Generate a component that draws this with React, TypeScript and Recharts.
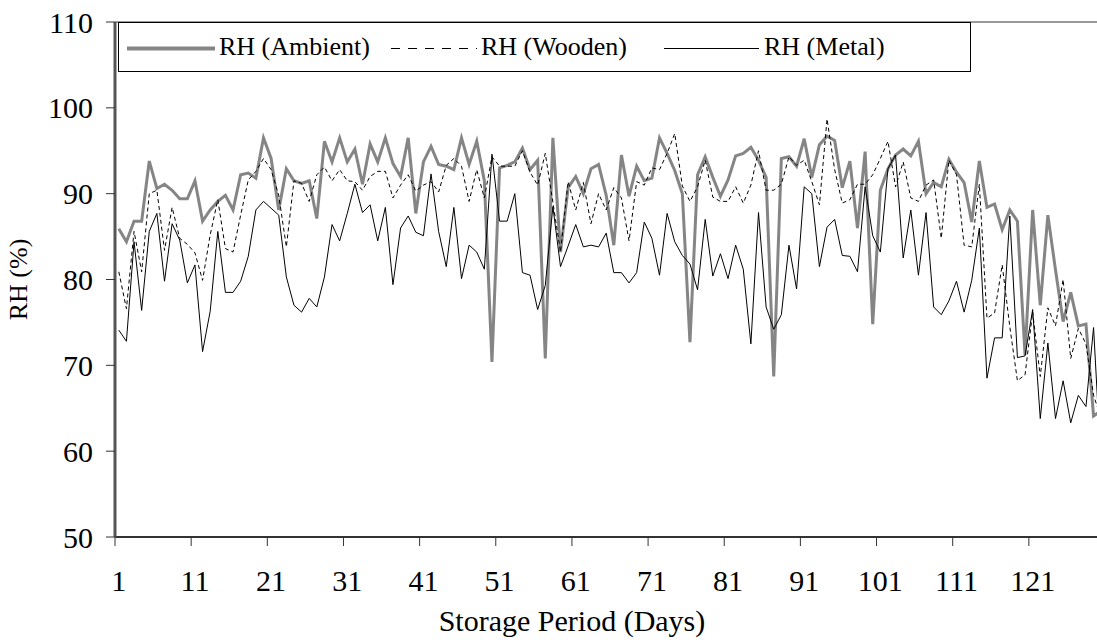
import { LineChart, Line, XAxis, YAxis, Legend, ReferenceLine, Label } from "recharts"

// storage days 1..130
const days = Array.from({ length: 130 }, (_, i) => i + 1)

const rhAmbient = [
  85.9, 84.4, 86.8, 86.8, 93.8, 90.6, 91.1, 90.4, 89.4, 89.4,
  91.5, 86.8, 88.1, 89.1, 89.8, 88.1, 92.2, 92.4, 91.8, 96.5,
  94.1, 88.1, 92.9, 91.5, 91.2, 91.5, 87.1, 96.1, 93.7, 96.5,
  93.7, 95.2, 91.1, 95.8, 93.7, 96.5, 93.5, 92.0, 96.5, 87.7,
  93.7, 95.5, 93.4, 93.2, 92.8, 96.5, 93.4, 96.1, 91.5, 70.4,
  93.0, 93.3, 93.7, 95.3, 92.8, 93.9, 70.8, 96.5, 83.2, 90.7,
  92.0, 90.0, 92.9, 93.4, 89.8, 84.0, 94.5, 89.7, 93.2, 91.5,
  91.8, 96.5, 94.7, 92.7, 90.0, 72.7, 92.2, 94.3, 91.9, 89.7,
  91.6, 94.4, 94.7, 95.4, 93.9, 91.9, 68.7, 94.1, 94.3, 93.2,
  96.4, 91.9, 95.7, 96.7, 96.2, 90.7, 93.8, 86.0, 94.9, 74.8,
  90.4, 92.9, 94.5, 95.2, 94.4, 96.1, 90.0, 91.3, 90.8, 94.0,
  92.5, 91.3, 86.7, 93.8, 88.4, 88.8, 85.8, 88.1, 86.8, 71.2,
  88.1, 77.0, 87.5, 81.1, 75.1, 78.5, 74.6, 74.8, 64.1, 64.7,
]

const rhWooden = [
  80.9, 76.6, 85.6, 80.9, 90.0, 90.4, 83.4, 88.4, 84.8, 84.1,
  83.1, 79.9, 85.2, 89.3, 83.6, 83.2, 87.5, 91.6, 92.6, 94.1,
  92.8, 89.8, 83.8, 91.5, 91.2, 89.1, 92.2, 93.1, 91.5, 92.8,
  91.5, 91.4, 90.4, 92.0, 92.6, 92.6, 89.5, 91.0, 92.2, 90.3,
  91.0, 91.4, 90.2, 93.3, 94.1, 93.2, 89.1, 92.8, 89.5, 94.3,
  93.2, 93.2, 93.2, 95.0, 92.5, 91.0, 94.7, 89.0, 83.2, 91.4,
  88.1, 91.3, 86.5, 90.0, 88.1, 90.7, 89.5, 84.5, 91.4, 91.0,
  93.0, 92.8, 94.7, 97.0, 90.9, 89.1, 90.8, 93.9, 89.6, 89.1,
  89.1, 90.8, 88.9, 91.0, 95.0, 90.4, 90.4, 91.1, 94.3, 93.3,
  93.9, 91.4, 88.7, 98.7, 92.8, 88.9, 89.3, 91.1, 91.1, 92.2,
  94.1, 96.1, 90.8, 93.7, 89.5, 89.1, 91.0, 91.6, 84.8, 93.9,
  92.2, 84.0, 83.8, 91.1, 75.5, 76.1, 81.7, 74.5, 68.2, 68.9,
  76.2, 68.7, 76.7, 74.6, 80.0, 70.8, 74.3, 72.5, 66.5, 63.8,
]

const rhMetal = [
  74.1, 72.8, 84.4, 76.4, 85.6, 87.7, 79.8, 86.5, 84.6, 79.6,
  81.7, 71.6, 76.3, 85.6, 78.5, 78.5, 79.8, 82.7, 88.1, 89.1,
  88.3, 87.5, 80.3, 77.0, 76.2, 77.8, 76.8, 80.3, 86.4, 84.5,
  87.7, 91.1, 87.8, 88.7, 84.5, 88.4, 79.4, 86.0, 87.4, 85.5,
  85.1, 92.3, 85.6, 81.5, 88.4, 80.1, 84.0, 83.2, 81.2, 94.6,
  86.8, 86.8, 90.0, 80.8, 80.5, 76.5, 79.3, 88.5, 81.5, 83.9,
  86.4, 83.8, 84.0, 83.8, 85.4, 80.8, 80.8, 79.6, 80.8, 86.7,
  84.8, 80.5, 87.7, 84.4, 82.8, 81.8, 78.8, 87.0, 80.4, 83.0,
  80.1, 84.0, 81.2, 72.5, 87.8, 76.8, 74.2, 75.9, 84.0, 78.9,
  90.8, 90.0, 81.5, 86.1, 87.0, 82.8, 82.7, 80.9, 90.8, 85.1,
  83.2, 92.9, 94.5, 82.5, 88.1, 80.5, 87.8, 76.8, 75.9, 77.5,
  79.8, 76.2, 79.9, 86.0, 68.5, 73.2, 73.2, 87.4, 70.9, 71.1,
  76.5, 63.8, 72.6, 63.8, 68.2, 63.3, 66.5, 65.2, 74.4, 58.0,
]

const dayTicks = [1, 11, 21, 31, 41, 51, 61, 71, 81, 91, 101, 111, 121]
const rhTicks = [50, 60, 70, 80, 90, 100, 110]

const data = days.map((d, i) => ({
  day: d,
  ambient: rhAmbient[i],
  wooden: rhWooden[i],
  metal: rhMetal[i],
}))

const font = "'Liberation Serif', 'Times New Roman', serif"
const TICK_SIZE = 9
const X_TICK_MARGIN = 24

function DayTick(props: any) {
  const { x, y, payload } = props
  // tick marks sit between categories, labels on the category
  const half = 3.8
  return (
    <g>
      <line
        x1={x - half}
        x2={x - half}
        y1={y - X_TICK_MARGIN - TICK_SIZE}
        y2={y - X_TICK_MARGIN}
        stroke="#333"
        strokeWidth={1}
      />
      <text x={x} y={y} dy="0.71em" textAnchor="middle" fontSize={30} fontFamily={font} fill="#000">
        {payload.value}
      </text>
    </g>
  )
}

function LegendBox() {
  const item = (left: number, w: number, stroke: string, sw: number, dash?: string) => (
    <svg style={{ position: "absolute", left, top: 20 }} width={w} height={10}>
      <line x1={0} x2={w} y1={5.5} y2={5.5} stroke={stroke} strokeWidth={sw} strokeDasharray={dash} />
    </svg>
  )
  const label = (left: number, txt: string) => (
    <span style={{ position: "absolute", left, top: 9, fontSize: 26, lineHeight: "30px", fontFamily: font, color: "#000", whiteSpace: "nowrap" }}>
      {txt}
    </span>
  )
  return (
    <div style={{ position: "relative", width: 853, height: 50, border: "1px solid #000", boxSizing: "border-box", background: "#fff" }}>
      {item(8, 88, "#858585", 4)}
      {label(100, "RH (Ambient)")}
      {item(272, 86, "#000", 1, "9 8")}
      {label(362, "RH (Wooden)")}
      {item(545, 95, "#000", 1)}
      {label(645, "RH (Metal)")}
    </div>
  )
}

export default function App() {
  return (
    <div style={{ position: "absolute", left: 0, top: 0, width: 1097, height: 640, overflow: "hidden", background: "#fff" }}>
      <LineChart width={1106} height={640} data={data} margin={{ top: 22, right: 1, bottom: 0, left: 0 }}>
        <ReferenceLine y={110} stroke="#9a9a9a" strokeWidth={2} />
        <XAxis
          dataKey="day"
          type="number"
          domain={[0.5, 130.5]}
          ticks={dayTicks}
          height={103}
          tickLine={false}
          tickSize={TICK_SIZE}
          tickMargin={X_TICK_MARGIN}
          tick={<DayTick />}
          axisLine={{ stroke: "#333", strokeWidth: 2 }}
        >
          <Label value="Storage Period (Days)" position="insideBottom" offset={9} dx={-38} fontSize={30} fontFamily={font} fill="#000" />
        </XAxis>
        <YAxis
          domain={[50, 110]}
          ticks={rhTicks}
          width={115}
          tickSize={TICK_SIZE}
          tickMargin={13}
          tick={{ fontSize: 30, fontFamily: font, fill: "#000" }}
          tickLine={{ stroke: "#333" }}
          axisLine={{ stroke: "#555", strokeWidth: 3 }}
        >
          <Label value="RH (%)" angle={-90} position="insideLeft" offset={18} fontSize={26} fontFamily={font} fill="#000" style={{ textAnchor: "middle" }} />
        </YAxis>
        <Legend
          layout="horizontal"
          verticalAlign="middle"
          align="center"
          wrapperStyle={{ left: 118, top: 22, width: 853, height: 50 }}
          content={<LegendBox />}
        />
        <Line dataKey="ambient" name="RH (Ambient)" stroke="#858585" strokeWidth={3} dot={false} isAnimationActive={false} />
        <Line dataKey="wooden" name="RH (Wooden)" stroke="#000" strokeWidth={1} strokeDasharray="4 3" dot={false} isAnimationActive={false} />
        <Line dataKey="metal" name="RH (Metal)" stroke="#000" strokeWidth={1} dot={false} isAnimationActive={false} />
      </LineChart>
    </div>
  )
}
